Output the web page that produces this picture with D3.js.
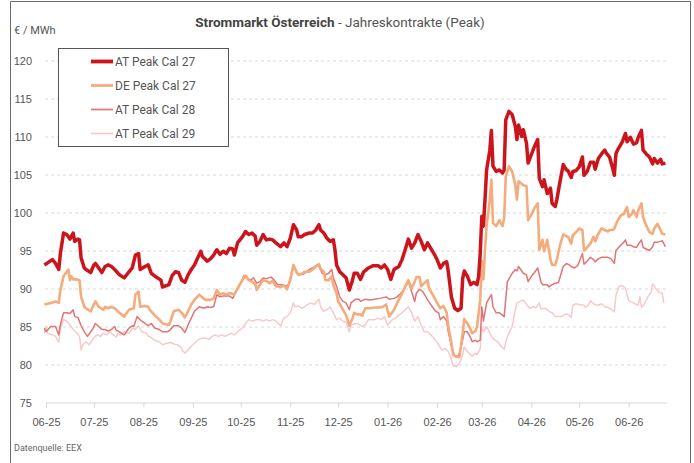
<!DOCTYPE html>
<html>
<head>
<meta charset="utf-8">
<script src="https://cdn.jsdelivr.net/npm/d3@7"></script>
<style>
  body { margin: 0; background: #fff; }
  svg { font-family: Roboto, "Open Sans", sans-serif; }
</style>
</head>
<body>
<div id="chart"></div>
<script>
var svgWidth = 694;
var svgHeight = 463;

// values: [days since startDate, EUR/MWh]
var startDate = new Date(2025, 5, 1);
var endDate = new Date(2026, 5, 25);
var seriesNames = ["AT Peak Cal 27", "DE Peak Cal 27", "AT Peak Cal 28", "AT Peak Cal 29"];
var yTicks = [75, 80, 85, 90, 95, 100, 105, 110, 115, 120];

var at27 = [[-1,93.1],[4,93.8],[6,93.3],[8,92.5],[9,94.6],[11,97.3],[13,97.1],[15,96.5],[17,97.3],[18,96.2],[20,96.5],[21,96.4],[22,94.0],[24,92.7],[25,92.5],[28,92.1],[30,93.1],[31,93.3],[33,92.7],[35,92.1],[37,92.9],[39,93.1],[41,92.9],[43,92.5],[46,91.8],[49,91.4],[52,92.2],[54,92.7],[56,94.4],[58,94.6],[59,92.5],[62,92.9],[64,93.1],[66,92.0],[69,91.5],[72,91.1],[73,90.2],[77,90.5],[79,91.7],[81,92.2],[83,92.1],[85,91.1],[87,90.8],[89,91.8],[91,92.5],[93,93.1],[95,94.0],[97,94.9],[98,94.2],[101,93.6],[103,93.9],[105,94.4],[107,95.1],[109,94.5],[111,94.9],[113,94.6],[115,95.3],[117,95.2],[118,94.4],[120,96.0],[123,96.8],[125,97.5],[127,97.1],[129,97.3],[131,96.9],[132,95.7],[134,96.2],[136,97.1],[138,96.4],[140,96.5],[142,96.4],[144,96.0],[147,95.5],[149,96.0],[151,95.5],[153,96.6],[155,98.4],[157,97.7],[158,96.8],[160,96.8],[162,97.1],[165,97.3],[167,97.3],[169,97.7],[171,98.4],[172,97.7],[174,97.3],[176,96.6],[178,96.2],[180,96.4],[181,95.1],[182,93.1],[184,92.2],[186,91.8],[188,91.4],[190,89.8],[192,91.1],[193,92.0],[195,92.0],[197,91.2],[199,92.2],[202,92.7],[205,93.0],[208,93.0],[210,92.7],[212,93.1],[214,92.5],[216,91.2],[218,92.5],[221,92.9],[223,93.8],[225,95.1],[227,96.5],[229,95.3],[231,96.0],[233,97.1],[235,96.2],[237,95.1],[239,96.0],[243,94.6],[245,93.8],[247,92.7],[249,93.3],[251,93.5],[252,92.2],[254,88.8],[256,87.4],[258,87.1],[260,87.4],[261,91.3],[262,92.3],[264,91.6],[266,90.5],[268,90.8],[270,90.5],[271,91.6],[272,94.6],[273,99.5],[274,98.2],[275,101.7],[276,105.6],[278,108.2],[279,110.8],[280,106.1],[282,105.4],[284,105.6],[286,105.2],[287,105.6],[288,112.2],[290,113.3],[292,112.9],[294,111.3],[295,109.6],[296,111.5],[298,110.0],[299,110.9],[301,109.1],[302,106.5],[304,107.6],[306,108.7],[308,109.6],[309,104.5],[311,103.4],[312,104.3],[314,102.5],[316,103.2],[317,101.2],[319,100.8],[320,101.7],[322,104.1],[324,106.3],[326,105.6],[327,105.5],[329,104.6],[330,105.4],[332,105.5],[334,106.0],[336,107.3],[337,104.9],[339,105.4],[341,106.6],[343,106.6],[344,105.7],[346,107.1],[348,107.7],[350,108.2],[351,107.8],[353,107.3],[355,105.8],[356,104.9],[357,107.7],[358,108.2],[361,109.3],[363,110.4],[364,109.3],[366,109.9],[368,109.0],[370,109.2],[371,109.9],[373,110.8],[374,108.2],[376,107.7],[378,107.3],[380,106.4],[381,107.1],[383,106.5],[385,107.0],[386,106.4],[388,106.5]];

var de27 = [[-1,87.9],[3,88.1],[6,88.3],[8,88.1],[9,89.8],[11,91.6],[13,92.2],[14,92.5],[15,91.1],[16,91.6],[17,91.2],[19,91.2],[21,91.1],[22,88.9],[24,87.6],[25,87.4],[28,87.0],[30,87.9],[31,88.3],[33,87.6],[36,87.2],[37,87.6],[39,87.4],[41,87.6],[43,87.4],[46,86.8],[49,86.3],[52,87.2],[55,87.4],[56,89.2],[58,89.6],[59,87.6],[62,87.7],[64,87.6],[65,87.2],[68,86.5],[71,85.9],[73,85.4],[77,85.2],[78,85.7],[80,87.0],[83,87.2],[85,86.8],[87,86.2],[89,87.0],[91,87.9],[93,88.5],[96,89.2],[98,88.8],[100,88.5],[103,88.5],[105,88.7],[107,89.8],[109,89.2],[111,89.4],[113,89.2],[115,89.4],[118,89.2],[120,90.0],[123,91.1],[125,91.7],[127,91.1],[129,90.9],[131,90.6],[132,89.8],[134,90.5],[136,91.1],[138,91.0],[140,90.7],[142,91.0],[144,90.3],[147,90.2],[149,90.4],[151,89.9],[153,91.1],[155,93.1],[157,92.2],[158,91.8],[160,91.9],[162,92.2],[165,92.2],[167,92.5],[169,92.9],[171,93.2],[172,92.6],[174,92.2],[175,91.1],[177,91.1],[179,91.6],[180,90.5],[182,89.4],[183,88.3],[185,87.6],[186,87.2],[188,86.5],[190,85.1],[192,86.1],[193,86.8],[195,86.6],[197,86.6],[198,86.4],[200,87.4],[203,87.4],[206,87.5],[209,87.5],[211,87.6],[213,87.9],[215,86.3],[218,87.2],[220,88.1],[222,88.9],[224,89.8],[226,90.7],[227,91.1],[229,90.0],[231,90.9],[232,91.5],[234,91.5],[235,90.3],[237,90.7],[239,91.1],[240,90.0],[243,88.9],[245,88.1],[247,87.4],[249,87.7],[251,86.8],[252,85.0],[254,82.8],[255,81.3],[257,81.0],[259,81.0],[261,84.1],[262,86.0],[264,85.4],[266,84.6],[267,84.1],[269,84.4],[270,85.0],[272,88.5],[273,93.6],[274,91.2],[275,95.1],[276,98.2],[278,101.7],[279,104.3],[280,98.6],[282,98.2],[284,99.0],[286,98.2],[287,99.3],[288,104.7],[290,106.1],[292,105.4],[294,103.6],[295,101.7],[296,104.1],[299,103.6],[301,103.5],[302,99.0],[304,99.7],[306,100.6],[308,101.2],[309,95.1],[311,96.4],[312,94.9],[314,96.4],[316,93.8],[317,93.1],[319,93.1],[320,93.8],[322,95.7],[324,97.1],[326,96.9],[327,96.8],[329,95.9],[330,97.0],[332,97.4],[334,97.9],[336,97.7],[337,95.0],[339,95.4],[341,95.9],[343,96.8],[344,96.2],[346,97.2],[348,97.9],[350,97.7],[352,97.5],[353,97.7],[355,97.7],[356,97.9],[358,98.9],[360,99.6],[362,99.8],[363,100.3],[364,100.7],[365,99.4],[367,99.8],[368,100.3],[370,99.4],[371,100.3],[373,101.2],[374,99.4],[376,98.3],[378,97.4],[380,97.2],[381,97.9],[383,98.5],[384,98.1],[386,97.2],[388,97.1]];

var at28 = [[-1,84.8],[0,84.3],[3,85.0],[6,85.0],[8,83.9],[9,85.2],[11,86.8],[13,86.8],[15,86.7],[17,87.2],[18,86.3],[20,86.2],[22,85.1],[24,84.3],[26,83.7],[29,84.6],[31,85.4],[33,85.0],[35,84.6],[37,84.6],[39,84.4],[41,84.6],[43,85.0],[44,84.5],[46,84.3],[49,83.9],[52,84.8],[54,85.1],[55,85.0],[57,86.3],[60,85.7],[62,85.4],[64,85.1],[66,85.4],[68,84.8],[71,84.6],[73,84.3],[76,84.3],[78,84.6],[80,85.1],[83,85.1],[85,84.8],[87,84.2],[89,85.2],[91,86.1],[93,87.0],[96,87.6],[99,87.4],[101,87.6],[103,87.5],[105,87.6],[107,89.2],[109,88.9],[111,89.0],[113,89.0],[115,89.0],[117,88.7],[119,89.6],[122,90.7],[124,91.7],[126,91.4],[128,91.1],[130,91.4],[132,90.7],[134,90.9],[136,91.4],[138,91.3],[141,91.5],[143,91.1],[145,90.5],[148,90.5],[150,90.3],[152,90.5],[154,92.2],[155,93.1],[157,92.0],[159,91.8],[161,91.9],[163,92.2],[165,92.5],[167,92.7],[170,93.1],[171,92.9],[173,92.0],[175,91.8],[177,92.0],[179,92.5],[180,91.4],[182,90.3],[184,88.9],[186,88.3],[188,88.1],[190,87.2],[191,88.1],[194,88.6],[196,88.6],[197,88.3],[200,88.6],[203,88.5],[206,88.6],[209,88.7],[211,88.8],[213,88.9],[215,88.6],[218,88.7],[220,88.9],[222,89.3],[224,89.8],[226,90.5],[227,90.9],[229,89.6],[231,88.3],[232,89.4],[234,89.9],[236,89.6],[238,88.9],[239,88.5],[242,87.6],[244,87.0],[246,86.8],[247,85.9],[249,86.3],[251,85.7],[252,84.3],[254,82.4],[256,81.1],[258,81.1],[259,81.5],[261,83.2],[262,84.3],[264,84.3],[266,83.5],[267,83.0],[269,83.2],[270,83.0],[272,83.2],[273,87.6],[274,85.7],[276,88.1],[277,88.5],[279,89.2],[280,87.6],[282,86.8],[284,86.8],[286,86.5],[287,86.3],[289,90.9],[292,92.0],[294,92.5],[295,92.3],[296,92.9],[299,92.0],[301,91.8],[302,90.9],[304,91.6],[306,92.1],[308,92.7],[310,90.9],[311,90.5],[314,90.5],[315,90.2],[317,90.5],[319,90.7],[321,90.8],[324,92.9],[326,93.3],[327,93.2],[329,92.9],[331,92.7],[333,93.0],[334,93.5],[336,94.6],[337,93.2],[339,93.6],[341,94.1],[343,93.8],[344,93.5],[346,93.9],[348,94.1],[350,94.1],[352,94.1],[354,93.9],[356,93.3],[357,95.0],[360,95.7],[362,96.1],[363,96.4],[364,95.7],[366,95.7],[368,95.5],[370,95.4],[371,95.8],[373,96.4],[374,95.4],[376,95.2],[378,95.0],[380,95.5],[381,96.1],[383,96.1],[385,96.2],[386,96.3],[388,95.5]];

var at29 = [[-1,84.1],[0,85.0],[1,84.1],[4,83.9],[6,83.7],[8,82.9],[9,84.6],[11,85.9],[13,85.7],[15,85.2],[17,84.6],[19,84.2],[21,83.7],[22,81.9],[23,82.6],[25,83.0],[27,82.6],[30,83.5],[32,83.9],[34,83.7],[36,84.1],[38,83.9],[40,84.3],[42,83.9],[44,83.6],[45,84.1],[47,83.9],[49,84.3],[52,84.1],[54,84.8],[56,84.6],[58,85.1],[60,84.3],[63,84.1],[64,83.7],[65,83.7],[68,83.2],[71,83.0],[73,82.6],[76,82.8],[78,82.9],[80,82.7],[82,82.6],[84,82.4],[86,81.7],[87,81.5],[89,81.9],[91,82.4],[93,82.8],[95,83.2],[98,83.5],[100,83.5],[102,83.3],[104,83.7],[106,83.9],[108,83.7],[110,83.9],[112,83.7],[114,83.9],[116,84.1],[118,83.9],[120,84.3],[123,84.8],[125,85.4],[127,85.9],[129,85.7],[132,85.9],[134,85.9],[136,85.7],[138,85.9],[140,85.7],[142,85.9],[144,85.7],[147,85.1],[149,86.1],[151,86.3],[153,86.8],[155,88.1],[156,87.6],[158,87.7],[160,87.4],[162,87.6],[164,87.9],[166,88.1],[168,87.9],[171,88.6],[172,87.6],[174,87.0],[176,87.2],[178,87.6],[180,86.8],[182,85.9],[184,86.1],[186,85.7],[188,85.6],[190,84.3],[191,85.2],[194,85.4],[196,85.3],[198,85.0],[200,85.2],[202,85.9],[204,85.9],[206,85.9],[208,86.1],[210,85.9],[212,86.3],[214,85.2],[217,85.9],[219,86.1],[221,86.5],[223,86.8],[225,87.2],[227,87.6],[229,86.8],[231,85.7],[233,86.3],[235,85.2],[237,84.3],[239,84.3],[242,83.7],[244,83.2],[246,82.6],[248,81.9],[250,82.1],[252,81.7],[254,80.6],[255,79.9],[257,79.7],[259,80.2],[261,81.3],[262,82.3],[264,81.7],[266,81.3],[267,81.1],[269,81.5],[270,81.3],[272,82.1],[273,85.0],[274,84.3],[276,85.0],[277,84.6],[279,83.7],[281,83.2],[283,83.0],[285,82.4],[287,82.0],[289,83.7],[292,85.0],[294,87.2],[295,88.1],[297,88.3],[299,88.5],[301,87.9],[303,87.4],[305,87.6],[307,87.5],[309,88.1],[310,87.3],[313,87.4],[315,87.0],[317,86.8],[319,86.3],[321,86.3],[323,86.3],[325,86.6],[327,86.6],[329,86.2],[330,87.8],[332,88.0],[334,87.9],[337,87.8],[338,87.5],[340,87.9],[341,88.4],[343,88.0],[344,87.9],[346,87.8],[348,88.0],[350,87.6],[352,87.5],[354,87.3],[356,86.9],[357,89.1],[359,90.3],[361,90.4],[363,90.0],[365,88.4],[367,88.2],[369,88.0],[371,87.8],[372,88.9],[373,87.5],[375,88.0],[377,88.9],[379,89.5],[380,90.6],[382,90.0],[384,89.5],[386,89.4],[387,88.1]];

var seriesData = [at27, de27, at28, at29];
var seriesColors = ["#cc141c", "#f5ab7c", "#e07477", "#f6cacb"];
var seriesWidths = [3.5, 2.6, 1.5, 1.5];

var plot = { left: 46, right: 667, top: 60.5, bottom: 402.5 };

var svg = d3.select("#chart")
  .append("svg")
  .attr("width", svgWidth)
  .attr("height", svgHeight);

// outer frame (left, top, right)
svg.append("path")
  .attr("d", `M10.5,${svgHeight} V1.5 H690.5 V${svgHeight}`)
  .attr("fill", "none")
  .attr("stroke", "#6b6b6b")
  .attr("stroke-width", 1);

var xScale = d3.scaleTime()
  .domain([startDate, endDate])
  .range([plot.left, plot.right]);

var yScale = d3.scaleLinear()
  .domain([75, 120])
  .range([plot.bottom, plot.top]);

// horizontal dashed grid + y labels
var leftAxis = d3.axisLeft(yScale)
  .tickValues(yTicks)
  .tickSize(-(plot.right - plot.left + 1))
  .tickPadding(13);

var yAxisGroup = svg.append("g")
  .attr("transform", `translate(${plot.left - 1}, 0)`)
  .call(leftAxis);

yAxisGroup.select(".domain").remove();
yAxisGroup.selectAll("line")
  .attr("stroke", "#d8d8d8")
  .attr("stroke-dasharray", "3,3")
  .filter(d => d === 75).remove();
yAxisGroup.selectAll("text")
  .attr("fill", "#555")
  .style("font-size", "11px");

// x axis by month
var bottomAxis = d3.axisBottom(xScale)
  .ticks(d3.timeMonth.every(1))
  .tickFormat(d3.timeFormat("%m-%y"))
  .tickSize(5)
  .tickSizeOuter(0)
  .tickPadding(11);

var xAxisGroup = svg.append("g")
  .attr("transform", `translate(0, ${plot.bottom})`)
  .call(bottomAxis);

xAxisGroup.select(".domain").attr("stroke", "#d8d8d8");
xAxisGroup.selectAll("line").attr("stroke", "#d8d8d8");
xAxisGroup.selectAll("text")
  .attr("fill", "#555")
  .style("font-size", "11px");

// lines, lightest first so Cal 27 ends on top
var line = d3.line()
  .x(d => xScale(d3.timeDay.offset(startDate, d[0])))
  .y(d => yScale(d[1]));

for (var i = seriesData.length - 1; i >= 0; i--) {
  svg.append("path")
    .datum(seriesData[i])
    .attr("fill", "none")
    .attr("stroke", seriesColors[i])
    .attr("stroke-width", seriesWidths[i])
    .attr("stroke-linejoin", "round")
    .attr("d", line);
}

// title
var title = svg.append("text")
  .attr("x", 340)
  .attr("y", 27)
  .attr("text-anchor", "middle")
  .style("font-size", "13.5px");
title.append("tspan").attr("font-weight", "bold").attr("fill", "#444").text("Strommarkt Österreich");
title.append("tspan").attr("fill", "#555").text(" - Jahreskontrakte (Peak)");

svg.append("text")
  .attr("x", 14)
  .attr("y", 34)
  .attr("fill", "#555")
  .style("font-size", "11px")
  .text("€ / MWh");

svg.append("text")
  .attr("x", 14)
  .attr("y", 451)
  .attr("fill", "#666")
  .style("font-size", "9px")
  .text("Datenquelle: EEX");

// legend
var legend = svg.append("g");
legend.append("rect")
  .attr("x", 58.5)
  .attr("y", 48.5)
  .attr("width", 170)
  .attr("height", 98)
  .attr("fill", "#fff")
  .attr("stroke", "#555");

var legendItems = legend.selectAll(".item")
  .data(seriesNames)
  .enter()
  .append("g")
  .attr("class", "item")
  .attr("transform", (d, i) => `translate(0, ${61.5 + i * 24})`);

legendItems.append("line")
  .attr("x1", 91)
  .attr("x2", 113)
  .attr("stroke", (d, i) => seriesColors[i])
  .attr("stroke-width", (d, i) => seriesWidths[i] + (i === 0 ? 0.3 : 0.2));

legendItems.append("text")
  .attr("x", 115)
  .attr("dy", "0.35em")
  .attr("fill", "#555")
  .style("font-size", "12px")
  .text(d => d);
</script>
</body>
</html>
